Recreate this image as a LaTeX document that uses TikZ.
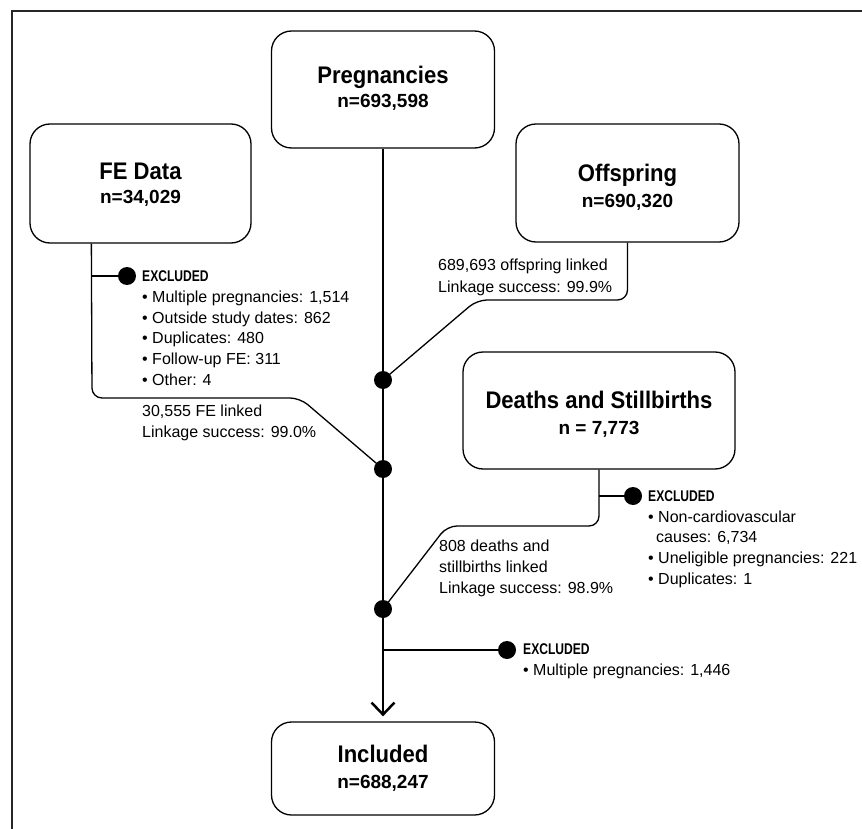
\documentclass[tikz,border=0pt]{standalone}
\usepackage{fontspec}
\setmainfont{Liberation Sans}
\newfontfamily\titlefont[FakeStretch=0.92]{Liberation Sans}
\newfontfamily\exclfont[FakeStretch=0.78]{Liberation Sans}
\usetikzlibrary{arrows.meta}
\begin{document}
\begin{tikzpicture}[x=1pt,y=-1pt,
 box/.style={draw, line width=1.3pt, rounded corners=20pt, inner sep=0pt},
 ttl/.style={font=\titlefont\bfseries\fontsize{24}{24}\selectfont, inner sep=0pt, text height=17.3pt, text depth=0pt},
 num/.style={font=\bfseries\fontsize{19}{19}\selectfont, inner sep=0pt, text height=13.6pt, text depth=0pt},
 body/.style={font=\fontsize{16}{16}\selectfont, anchor=west, inner sep=0pt, text height=11.5pt, text depth=0pt},
 excl/.style={font=\exclfont\bfseries\fontsize{15.5}{15.5}\selectfont, anchor=west, inner sep=0pt, text height=11.1pt, text depth=0pt},
 dotnode/.style={circle, fill=black, inner sep=0pt, minimum size=18pt},
 conn/.style={line width=1.3pt, rounded corners=10pt},
 mainline/.style={line width=2.5pt},
 framestyle/.style={line width=1.6pt, draw=black!85},
]
\useasboundingbox (0,0) rectangle (862,829);
\fill[white] (0,0) rectangle (862,829);

% frame
\coordinate (fr1) at (12,829);
\coordinate (fr2) at (12,11);
\coordinate (fr3) at (862,11);
\draw[framestyle] (fr1) -- (fr2) -- (fr3);

% boxes
\node[box, minimum width=223pt, minimum height=117pt] (preg) at (383,89.5) {};
\node[ttl] (pregT) at (383,75) {Pregnancies};
\node[num] (pregN) at (383,101) {n=693,598};

\node[box, minimum width=221pt, minimum height=119pt] (fe) at (140.5,183.5) {};
\node[ttl] (feT) at (140.5,171) {FE Data};
\node[num] (feN) at (140.5,197) {n=34,029};

\node[box, minimum width=223pt, minimum height=118pt] (off) at (627.5,183) {};
\node[ttl] (offT) at (627.5,173) {Offspring};
\node[num] (offN) at (627.5,201) {n=690,320};

\node[box, minimum width=272pt, minimum height=117pt] (dth) at (599,410.5) {};
\node[ttl] (dthT) at (599,400) {Deaths and Stillbirths};
\node[num] (dthN) at (599,428) {n = 7,773};

\node[box, minimum width=223pt, minimum height=93pt] (incl) at (383,768.5) {};
\node[ttl] (inclT) at (383,754) {Included};
\node[num] (inclN) at (383,782) {n=688,247};

% main line
\draw[mainline, -{Straight Barb[length=12pt,width=23pt]}, shorten >=5pt] (preg.south) -- (incl.north);

% dots on main line
\node[dotnode] (d1) at (383,380) {};
\node[dotnode] (d2) at (383,469) {};
\node[dotnode] (d3) at (383,609) {};

% FE branch
\coordinate (feOut) at ([xshift=62pt]fe.south west);
\coordinate (feK1) at (92,398);
\coordinate (feK2) at (300,398);
\draw[conn] (feOut) -- (feK1) -- (feK2) -- (d2.center);
\node[dotnode] (feDot) at (127,276) {};
\draw[conn] (feOut |- feDot) -- (feDot);
\node[excl] (feEx) at (142,276) {EXCLUDED};
\node[body] (feL1) at (142,297) {\textbullet\ Multiple pregnancies: 1,514};
\node[body] (feL2) at (142,318) {\textbullet\ Outside study dates: 862};
\node[body] (feL3) at (142,338) {\textbullet\ Duplicates: 480};
\node[body] (feL4) at (142,359) {\textbullet\ Follow-up FE: 311};
\node[body] (feL5) at (142,380) {\textbullet\ Other: 4};
\node[body] (feK) at (142,411) {30,555 FE linked};
\node[body] (feS) at (142,432) {Linkage success: 99.0\%};

% Offspring branch
\coordinate (offK1) at (627.5,300);
\coordinate (offK2) at (477,300);
\draw[conn] (off.south) -- (offK1) -- (offK2) -- (d1.center);
\node[body] (offK) at (438,265) {689,693 offspring linked};
\node[body] (offS) at (438,287) {Linkage success: 99.9\%};

% Deaths branch
\coordinate (dK1) at (599,526);
\coordinate (dK2) at (447,526);
\draw[conn] (dth.south) -- (dK1) -- (dK2) -- (d3.center);
\node[dotnode] (dDot) at (633,496) {};
\draw[conn] (dth.south |- dDot) -- (dDot);
\node[excl] (dEx) at (648,496) {EXCLUDED};
\node[body] (dL1) at (648,517) {\textbullet\ Non-cardiovascular};
\node[body] (dL2) at (656,537) {causes: 6,734};
\node[body] (dL3) at (648,558) {\textbullet\ Uneligible pregnancies: 221};
\node[body] (dL4) at (648,579) {\textbullet\ Duplicates: 1};
\node[body] (dK) at (439,546) {808 deaths and};
\node[body] (dK2t) at (439,567) {stillbirths linked};
\node[body] (dS) at (439,588) {Linkage success: 98.9\%};

% final exclusion
\node[dotnode] (bDot) at (507,650) {};
\coordinate (bStart) at (383,650);
\draw[conn] (bStart) -- (bDot);
\node[excl] (bEx) at (523,649) {EXCLUDED};
\node[body] (bL1) at (523,670) {\textbullet\ Multiple pregnancies: 1,446};
\end{tikzpicture}
\end{document}
